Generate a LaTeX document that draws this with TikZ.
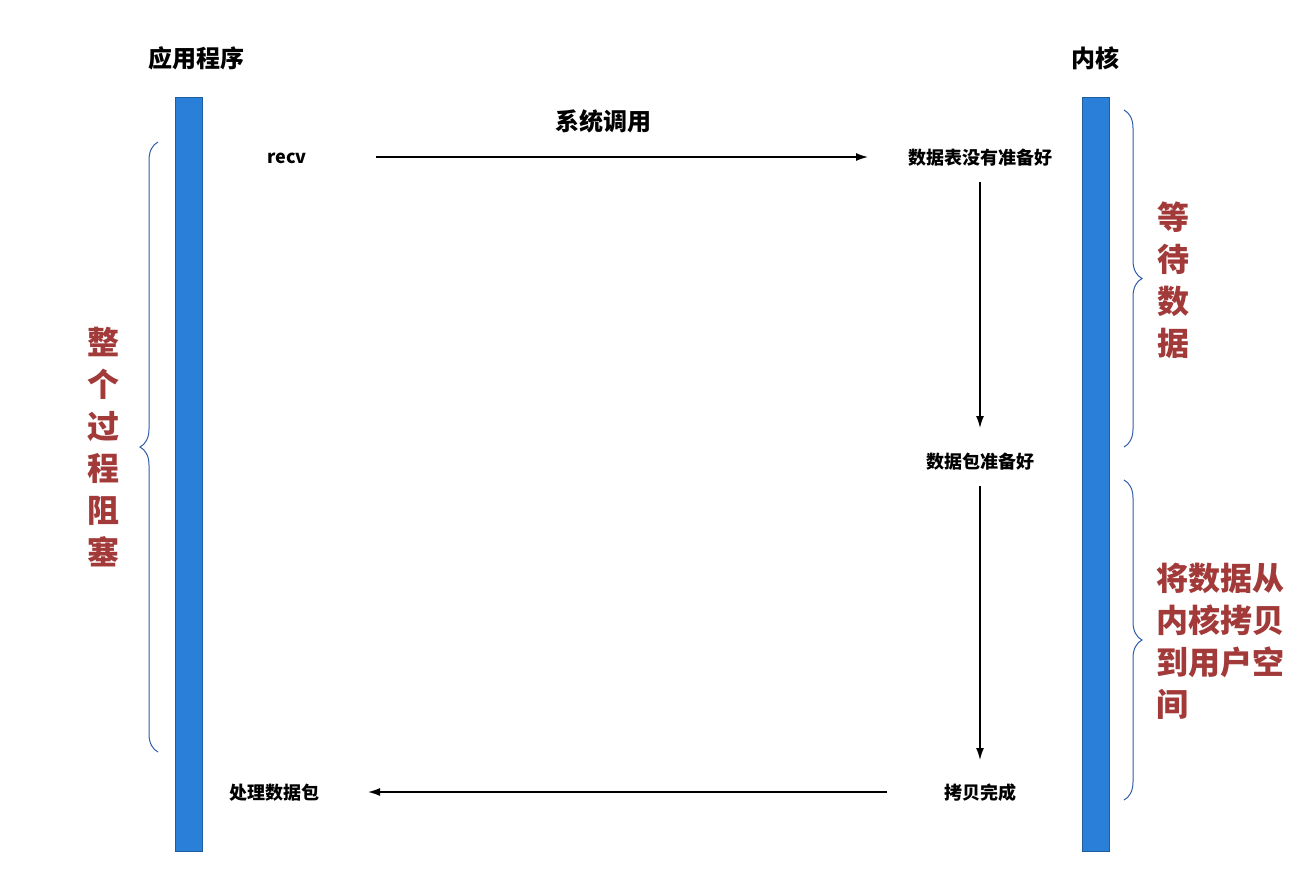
\documentclass[tikz,border=0pt]{standalone}
\usepackage{fontspec}
\setmainfont{Noto Sans CJK SC}
\usetikzlibrary{decorations.pathreplacing,arrows.meta}
\definecolor{barblue}{HTML}{2A7FD8}
\definecolor{bardark}{HTML}{1F5E9E}
\definecolor{redtxt}{HTML}{A33A3A}
\definecolor{bracec}{HTML}{2F5DA8}
\begin{document}
\begin{tikzpicture}[x=1pt,y=-1pt,
  lbl/.style={font=\fontsize{18}{22}\selectfont\bfseries},
  head/.style={font=\fontsize{24}{28}\selectfont\bfseries},
  big/.style={font=\fontsize{32}{42}\selectfont\bfseries,text=redtxt,align=left},
  bar/.style={fill=barblue,draw=bardark,line width=0.8pt},
  arr/.style={-{Latex[length=12pt,width=8pt]},line width=1.4pt},
  br/.style={draw=bracec,line width=1pt,decorate,decoration={brace,amplitude=18pt}}]
\useasboundingbox (0,0) rectangle (1312,895);
\fill[white] (0,0) rectangle (1312,895);
\path[bar] (175,97) rectangle (202,851);
\path[bar] (1082,97) rectangle (1109,851);
\node[head] (app) at (196,58) {应用程序};
\node[head] (ker) at (1095,58) {内核};
\node[head] (sys) at (603,121) {系统调用};
\node[lbl] (recv) at (287,158) {recv};
\node[lbl] (notready) at (980,158) {数据表没有准备好};
\node[lbl] (ready) at (980,462) {数据包准备好};
\node[lbl] (done) at (980,793) {拷贝完成};
\node[lbl] (proc) at (274,793) {处理数据包};
\coordinate (a1) at (376,157); \coordinate (a2) at (868,157);
\draw[arr] (a1) -- (a2);
\draw[arr] (notready.south) ++(0,12) -- (980,428);
\draw[arr] (ready.south) ++(0,12) -- (980,760);
\coordinate (b1) at (887,792); \coordinate (b2) at (368,792);
\draw[arr] (b1) -- (b2);
\draw[br] (158,752) -- (158,142);
\draw[br] (1124,110) -- (1124,447);
\draw[br] (1124,480) -- (1124,800);
\node[big,align=center] (left) at (103,447) {整\\个\\过\\程\\阻\\塞};
\node[big,align=center] (wait) at (1173,280) {等\\待\\数\\据};
\node[big,anchor=west] (copy) at (1153,641) {将数据从\\内核拷贝\\到用户空\\间};
\end{tikzpicture}
\end{document}
